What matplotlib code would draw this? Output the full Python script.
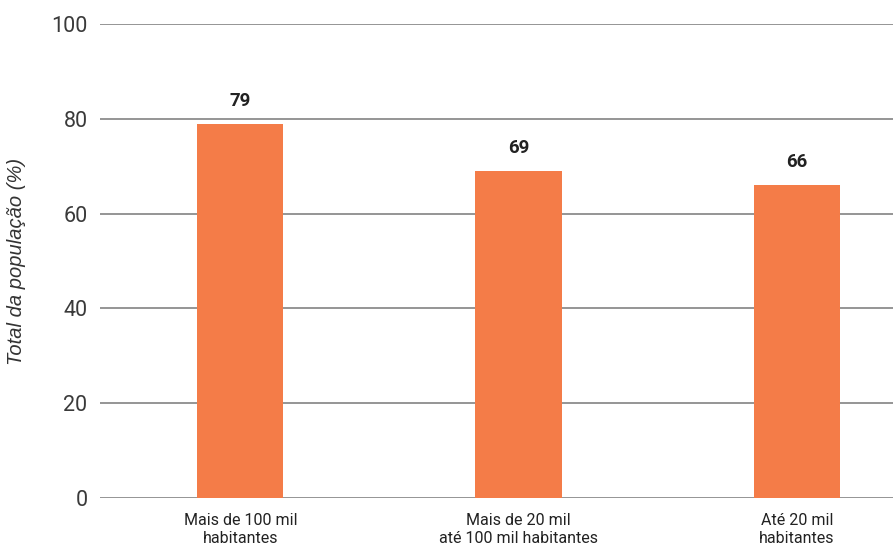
import matplotlib
matplotlib.use("Agg")
import matplotlib.pyplot as plt
import numpy as np
from matplotlib import font_manager

categorias = ['Mais de 100 mil\nhabitantes', 'Mais de 20 mil\naté 100 mil habitantes', 'Até 20 mil\nhabitantes']
valores = [79, 69, 66]
ticks_y = [0, 20, 40, 60, 80, 100]

nomes = {f.name for f in font_manager.fontManager.ttflist}
estreita = 'Liberation Sans Narrow' if 'Liberation Sans Narrow' in nomes else 'Roboto'
tam_estreita = 13 if estreita == 'Liberation Sans Narrow' else 11.5

fig = plt.figure(figsize=(8.93, 5.49), dpi=100)
ax = fig.add_axes([0.112, 0.093, 0.888, 0.8633])

x = np.arange(len(categorias))
barras = ax.bar(x, valores, width=0.31, color='#F47C48', zorder=3)

ax.set_ylim(0, 100)
ax.set_xlim(-0.504, 2.345)
ax.set_yticks(ticks_y)
ax.set_yticklabels([str(t) for t in ticks_y], fontsize=15.5, color='#3a3a3a', family='Roboto')
ax.yaxis.grid(True, color='#8c8c8c', linewidth=1.3, zorder=0)
ax.tick_params(axis='both', length=0)
ax.tick_params(axis='y', pad=9)
ax.tick_params(axis='x', pad=11)
ax.set_xticks(x)
ax.set_xticklabels(categorias, fontsize=tam_estreita, color='#222222', family=estreita, linespacing=1.2)
for s in ax.spines.values():
    s.set_visible(False)

ax.set_ylabel('Total da população (%)', fontsize=14.5, style='italic', color='#333333',
              family='Liberation Sans')
ax.yaxis.set_label_coords(-0.093, 0.5)

# rótulos dos valores
for b in barras:
    h = b.get_height()
    ax.annotate(f'{h}', xy=(b.get_x() + b.get_width() / 2, h), xytext=(0, 10),
                textcoords='offset points', ha='center', va='bottom',
                fontsize=tam_estreita + 2, fontweight='bold', family=estreita, color='#222222')

fig.savefig('out.png', dpi=100)
